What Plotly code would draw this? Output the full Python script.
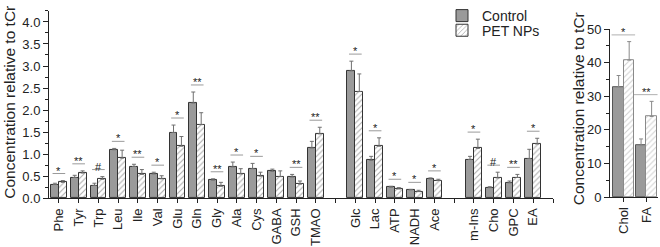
import plotly.graph_objects as go

# ---------------- data ----------------
metabolites = ["Phe", "Tyr", "Trp", "Leu", "Ile", "Val", "Glu", "Gln", "Gly", "Ala", "Cys",
               "GABA", "GSH", "TMAO", "Glc", "Lac", "ATP", "NADH", "Ace",
               "m-Ins", "Cho", "GPC", "EA"]
group_sizes = [14, 5, 4]  # amino acids etc. | energy | membrane (one empty slot between groups)

control = [0.31, 0.47, 0.29, 1.10, 0.72, 0.55, 1.49, 2.16, 0.41, 0.71, 0.67,
           0.61, 0.48, 1.14, 2.89, 0.86, 0.25, 0.19, 0.44,
           0.88, 0.24, 0.35, 0.90]
control_err = [0.03, 0.05, 0.05, 0.03, 0.05, 0.04, 0.17, 0.25, 0.03, 0.11, 0.12,
               0.05, 0.06, 0.15, 0.22, 0.09, 0.02, 0.01, 0.02,
               0.07, 0.02, 0.04, 0.21]
pet = [0.36, 0.57, 0.43, 0.91, 0.54, 0.44, 1.18, 1.67, 0.27, 0.55, 0.50,
       0.49, 0.32, 1.46, 2.42, 1.18, 0.21, 0.15, 0.40,
       1.13, 0.46, 0.47, 1.23]
pet_err = [0.04, 0.05, 0.06, 0.18, 0.11, 0.07, 0.22, 0.27, 0.09, 0.12, 0.09,
           0.13, 0.07, 0.15, 0.40, 0.19, 0.03, 0.03, 0.03,
           0.21, 0.13, 0.07, 0.13]
significance = ["*", "**", "#", "*", "**", "*", "*", "**", "**", "*", "*",
                "", "**", "**", "*", "*", "*", "*", "*",
                "*", "#", "**", "*"]

lipids = ["Chol", "FA"]
lipid_control = [32.7, 15.3]
lipid_control_err = [3.5, 2.0]
lipid_pet = [40.8, 24.0]
lipid_pet_err = [5.5, 4.5]
lipid_significance = ["*", "**"]

y_title = "Concentration relative to tCr"

# ---------------- positions (categories with an empty slot between groups) ----------------
positions = []
start = 0
for n in group_sizes:
    positions += list(range(start, start + n))
    start += n + 1
n_slots = start  # includes trailing slot
tick_vals = list(range(n_slots))
tick_text = [""] * n_slots
for p, name in zip(positions, metabolites):
    tick_text[p] = name
lipid_pos = list(range(len(lipids)))

W, H = 660, 247
FONT = "Liberation Sans, Arial, sans-serif"
CTRL_FILL = "#9a9a9a"
EDGE = "#333333"
ERR = "#6f6f6f"

fig = go.Figure()

bw = 0.4
fig.add_trace(go.Bar(
    x=positions, y=control, width=bw, offset=-bw, name="Control", legend="legend",
    marker=dict(color=CTRL_FILL, line=dict(color=EDGE, width=1)),
    error_y=dict(type="data", array=control_err, arrayminus=[0] * len(control),
                 symmetric=False, color=ERR, thickness=1, width=2),
    xaxis="x", yaxis="y"))
fig.add_trace(go.Bar(
    x=positions, y=pet, width=bw, offset=0, name="PET NPs", legend="legend2",
    marker=dict(color="white", line=dict(color=EDGE, width=1),
                pattern=dict(shape="/", fgcolor="#555555", bgcolor="white", size=4, solidity=0.25)),
    error_y=dict(type="data", array=pet_err, arrayminus=[0] * len(pet),
                 symmetric=False, color=ERR, thickness=1, width=2),
    xaxis="x", yaxis="y"))

bw2 = 0.47
fig.add_trace(go.Bar(
    x=lipid_pos, y=lipid_control, width=bw2, offset=-bw2, name="Control", showlegend=False,
    marker=dict(color=CTRL_FILL, line=dict(color="#555555", width=1)),
    error_y=dict(type="data", array=lipid_control_err, arrayminus=[0, 0],
                 symmetric=False, color="#8a8a8a", thickness=1, width=2),
    xaxis="x2", yaxis="y2"))
fig.add_trace(go.Bar(
    x=lipid_pos, y=lipid_pet, width=bw2, offset=0, name="PET NPs", showlegend=False,
    marker=dict(color="white", line=dict(color="#8a8a8a", width=1),
                pattern=dict(shape="/", fgcolor="#a0a0a0", bgcolor="white", size=4, solidity=0.25)),
    error_y=dict(type="data", array=lipid_pet_err, arrayminus=[0, 0],
                 symmetric=False, color="#8a8a8a", thickness=1, width=2),
    xaxis="x2", yaxis="y2"))

# ---------------- significance marks ----------------
shapes = []
annotations = []
for p, c, ce, v, ve, s in zip(positions, control, control_err, pet, pet_err, significance):
    if not s:
        continue
    yl = max(c + ce, v + ve) + 0.16
    shapes.append(dict(type="line", xref="x", yref="y", x0=p - 0.32, x1=p + 0.32, y0=yl, y1=yl,
                       line=dict(color="#9a9a9a", width=1)))
    annotations.append(dict(xref="x", yref="y", x=p, y=yl, text=s, showarrow=False,
                            yanchor="bottom", yshift=-5, font=dict(size=11, color="#222222", family=FONT)))
for p, c, ce, v, ve, s in zip(lipid_pos, lipid_control, lipid_control_err, lipid_pet, lipid_pet_err, lipid_significance):
    yl = max(c + ce, v + ve) + 2.0
    shapes.append(dict(type="line", xref="x2", yref="y2", x0=p - 0.55, x1=p + 0.5, y0=yl, y1=yl,
                       line=dict(color="#b0b0b0", width=1)))
    annotations.append(dict(xref="x2", yref="y2", x=p, y=yl, text=s, showarrow=False,
                            yanchor="bottom", yshift=-5, font=dict(size=11, color="#222222", family=FONT)))

# y-axis titles
annotations.append(dict(xref="paper", yref="paper", x=10 / W, y=1 - 100 / H, text=y_title,
                        textangle=-90, showarrow=False, xanchor="center", yanchor="middle",
                        font=dict(size=15.5, color="#222222", family=FONT)))
annotations.append(dict(xref="paper", yref="paper", x=578 / W, y=1 - 107 / H, text=y_title,
                        textangle=-90, showarrow=False, xanchor="center", yanchor="middle",
                        font=dict(size=15.5, color="#222222", family=FONT)))

axis_common = dict(showline=True, linecolor="#222222", linewidth=1, showgrid=False, zeroline=False,
                   ticks="outside", tickcolor="#222222", tickfont=dict(size=13, color="#222222", family=FONT))

legend_common = dict(xanchor="left", yanchor="top", bgcolor="rgba(0,0,0,0)",
                     font=dict(size=14, color="#222222", family=FONT))

fig.update_layout(
    width=W, height=H, margin=dict(l=0, r=0, t=0, b=0),
    paper_bgcolor="white", plot_bgcolor="white",
    barmode="overlay", bargap=0,
    font=dict(family=FONT, color="#222222"),
    xaxis=dict(domain=[49 / W, 553 / W], range=[-0.5, n_slots - 1], tickmode="array",
               tickvals=tick_vals, ticktext=tick_text, tickangle=-90, ticklen=4,
               anchor="y", **axis_common),
    yaxis=dict(domain=[1 - 203 / H, 1 - 1 / H], range=[0, 4.25], tickmode="linear", tick0=0, dtick=0.5,
               tickformat=".1f", ticklen=5, anchor="x",
               minor=dict(ticks="outside", dtick=0.25, ticklen=3, tickcolor="#222222"),
               **axis_common),
    xaxis2=dict(domain=[610 / W, 658 / W], range=[-0.62, 1.52], tickmode="array",
                tickvals=lipid_pos, ticktext=lipids, tickangle=-90, ticklen=4,
                anchor="y2", **axis_common),
    yaxis2=dict(domain=[1 - 201.7 / H, 1 - 20.7 / H], range=[0, 50], tickmode="linear", tick0=0, dtick=10,
                ticklen=5, anchor="x2",
                minor=dict(ticks="outside", dtick=5, ticklen=3, tickcolor="#222222"),
                **axis_common),
    legend=dict(x=442 / W, y=1 + 11 / H, **legend_common),
    legend2=dict(x=442 / W, y=1 - 5 / H, **legend_common),
    shapes=shapes, annotations=annotations,
)

fig.write_html("out.html", config={"displayModeBar": False},
               post_script="document.body.style.margin='0';document.body.style.overflow='hidden';")
